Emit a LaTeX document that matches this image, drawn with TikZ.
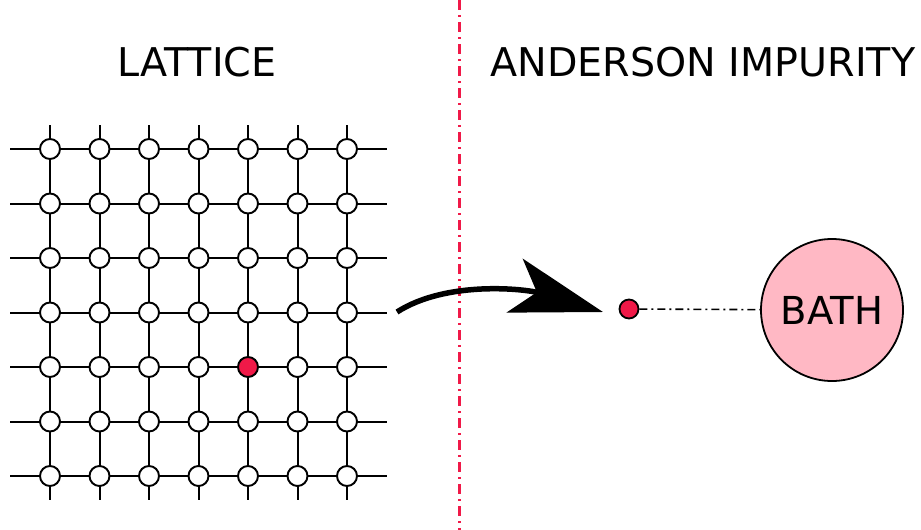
\documentclass[tikz,border=0pt]{standalone}
\usepackage{fontspec}
\setmainfont{DejaVu Sans}
\usetikzlibrary{arrows.meta}
\definecolor{ImpRed}{RGB}{240,25,72}
\definecolor{BathPink}{RGB}{255,184,196}

\begin{document}
\begin{tikzpicture}[x=1pt,y=-1pt,
  bond/.style={line width=2pt},
  site/.style={circle,draw,line width=1.9pt,fill=white,minimum size=20pt,inner sep=0pt},
  title/.style={font=\fontsize{39.6}{46}\selectfont}]
  \useasboundingbox (0,0) rectangle (921,530);
  \node[title] (lat-title) at (197,62) {LATTICE};
  \node[title] (imp-title) at (703,62) {ANDERSON IMPURITY};
  % bonds
  \foreach \j in {0,...,6} {
    \coordinate (hl-\j) at (10,149+54.5*\j);
    \coordinate (hr-\j) at (387,149+54.5*\j);
    \draw[bond] (hl-\j) -- (hr-\j);
  }
  \foreach \i in {0,...,6} {
    \coordinate (vt-\i) at (50+49.5*\i,125);
    \coordinate (vb-\i) at (50+49.5*\i,500);
    \draw[bond] (vt-\i) -- (vb-\i);
  }
  % sites
  \foreach \i in {0,...,6}
    \foreach \j in {0,...,6} {
      \ifnum\i\j=44 \def\sitecol{ImpRed}\else\def\sitecol{white}\fi
      \node[site,fill=\sitecol] (s-\i-\j) at (50+49.5*\i,149+54.5*\j) {};
    }
  % divider
  \coordinate (div-top) at (459,0);
  \coordinate (div-bot) at (459,530);
  \draw[ImpRed,line width=3pt,dash pattern=on 10pt off 5pt on 2pt off 5pt] (div-top) -- (div-bot);
  % mapping arrow
  \coordinate (map-from) at (397,312);
  \coordinate (map-to) at (603,312);
  \draw[line width=5.5pt,-{Stealth[length=92pt,width=56pt,inset=23pt]}]
    (map-from) .. controls (447,280) and (526,289) .. (map-to);
  % impurity + bath
  \node[circle,draw,line width=1.8pt,fill=ImpRed,minimum size=19pt,inner sep=0pt] (imp) at (629,309) {};
  \node[circle,draw,line width=1.8pt,fill=BathPink,minimum size=142pt,inner sep=0pt,
        font=\fontsize{38.5}{46}\selectfont] (bath) at (832,310) {BATH};
  \draw[line width=1.6pt,dash pattern=on 8pt off 4pt on 2pt off 4pt] (imp) -- (bath);
\end{tikzpicture}
\end{document}
